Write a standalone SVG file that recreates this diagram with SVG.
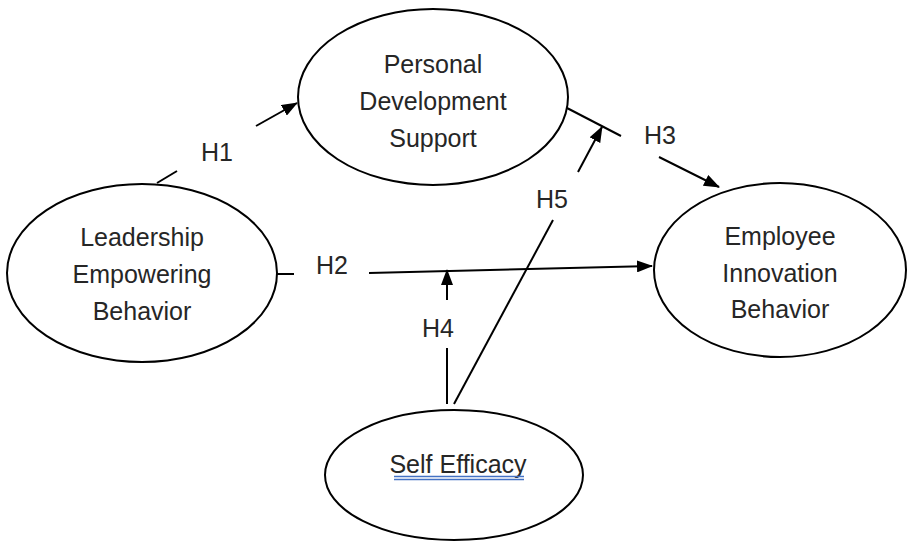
<svg xmlns="http://www.w3.org/2000/svg" width="907" height="543" viewBox="0 0 907 543">
<style>
.node ellipse{fill:#fff;stroke:#000;stroke-width:2}
.t{font-family:"Liberation Sans",Arial,sans-serif;font-size:25px;fill:#262626;text-anchor:middle}
.conn line{stroke:#000;stroke-width:2;fill:none}
.arr{marker-end:url(#ah)}
.ul{stroke:#4472c4;stroke-width:1.3}
</style>
<defs>
<marker id="ah" viewBox="0 0 16 12" refX="15" refY="6" markerWidth="16" markerHeight="12" markerUnits="userSpaceOnUse" orient="auto">
<path d="M0,0 L16,6 L0,12 z" fill="#000"/>
</marker>
</defs>
<rect width="907" height="543" fill="#fff"/>
<g id="pds" class="node">
<ellipse cx="433" cy="97" rx="135" ry="88"/>
<text class="t" x="433" y="73">Personal</text>
<text class="t" x="433" y="110">Development</text>
<text class="t" x="433" y="147">Support</text>
</g>
<g id="leb" class="node">
<ellipse cx="142" cy="273" rx="135" ry="89"/>
<text class="t" x="142" y="246">Leadership</text>
<text class="t" x="142" y="283">Empowering</text>
<text class="t" x="142" y="320">Behavior</text>
</g>
<g id="eib" class="node">
<ellipse cx="780" cy="270" rx="126" ry="87"/>
<text class="t" x="780" y="245">Employee</text>
<text class="t" x="780" y="282">Innovation</text>
<text class="t" x="780" y="318">Behavior</text>
</g>
<g id="se" class="node">
<ellipse cx="454" cy="475" rx="129" ry="65"/>
<text class="t" x="458" y="473">Self Efficacy</text>
<line class="ul" x1="394" y1="476.5" x2="524" y2="476.5"/>
<line class="ul" x1="394" y1="479.5" x2="524" y2="479.5"/>
</g>
<g id="connectors" class="conn">
<line x1="157" y1="183" x2="177" y2="171"/>
<line class="arr" x1="256" y1="126" x2="297" y2="103"/>
<line x1="277" y1="274" x2="294" y2="274"/>
<line class="arr" x1="369" y1="273" x2="652" y2="266"/>
<line x1="567" y1="108" x2="621" y2="136"/>
<line class="arr" x1="659" y1="157" x2="719" y2="187"/>
<line x1="447" y1="404" x2="447" y2="348"/>
<line class="arr" x1="447" y1="300" x2="447" y2="270"/>
<line x1="454" y1="404" x2="553" y2="220"/>
<line class="arr" x1="578" y1="172" x2="602" y2="127"/>
</g>
<g id="labels">
<text class="t" x="217" y="161">H1</text>
<text class="t" x="332" y="274">H2</text>
<text class="t" x="660" y="144">H3</text>
<text class="t" x="438" y="337">H4</text>
<text class="t" x="552" y="208">H5</text>
</g>
</svg>
